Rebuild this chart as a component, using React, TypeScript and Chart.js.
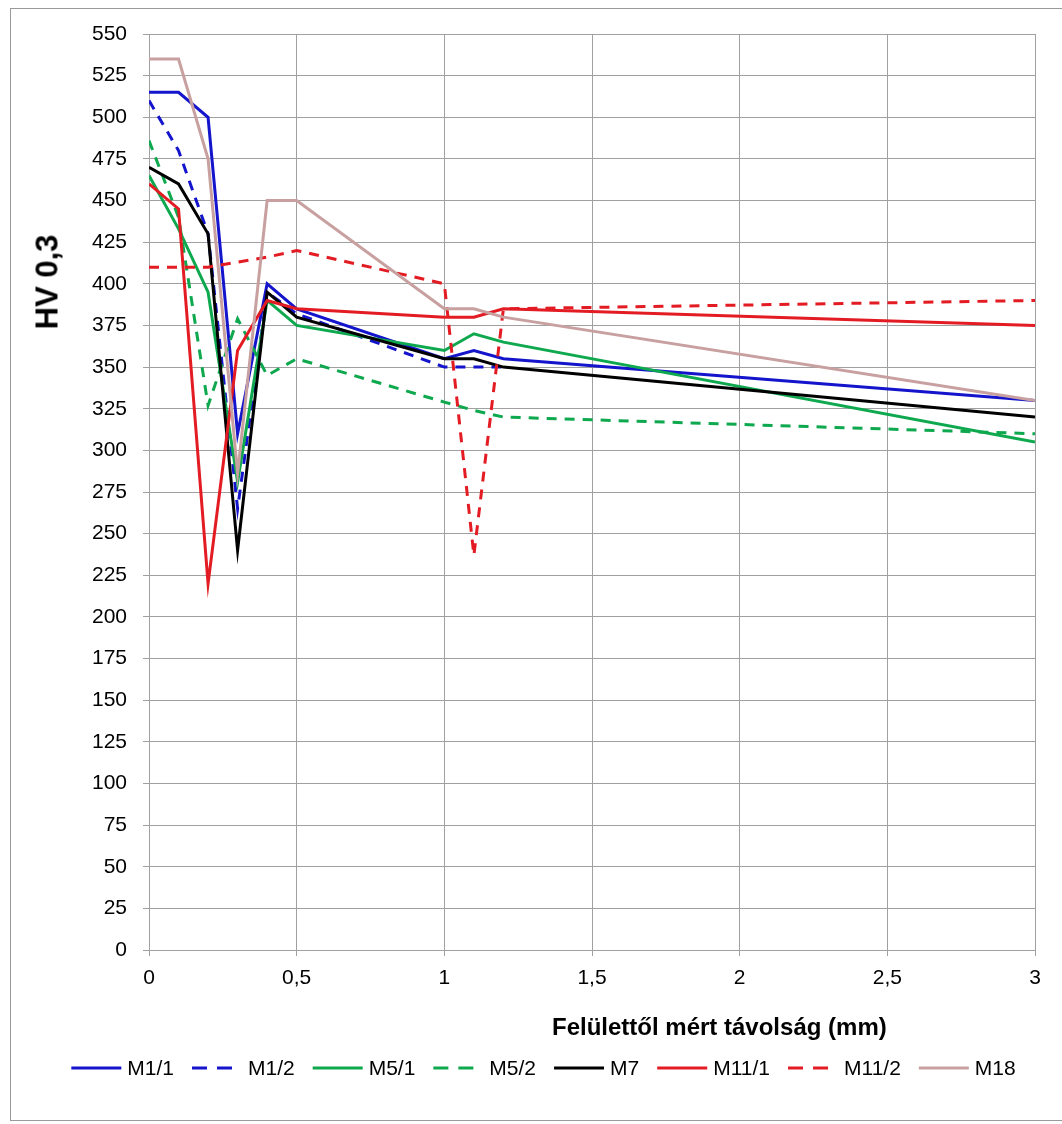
import React, { useEffect, useRef } from "react";
import { Chart, registerables } from "chart.js";

Chart.register(...registerables);

const xValues = [0, 0.1, 0.2, 0.3, 0.4, 0.5, 1, 1.1, 1.2, 3];

const seriesNames = ["M1/1", "M1/2", "M5/1", "M5/2", "M7", "M11/1", "M11/2", "M18"];

const m1_1 = [515, 515, 500, 310, 400, 385, 355, 360, 355, 330];
const m1_2 = [510, 480, 430, 265, 395, 382, 350, 350, 350];
const m5_1 = [465, 433, 395, 281, 390, 375, 360, 370, 365, 305];
const m5_2 = [486, 440, 327, 379, 345, 355, 329, 324, 320, 310];
const m7 = [470, 460, 430, 240, 395, 380, 355, 355, 350, 320];
const m11_1 = [460, 445, 220, 360, 390, 385, 380, 380, 385, 375];
const m11_2 = [410, 410, 410, 413, 416, 420, 400, 237, 385, 390];
const m18 = [535, 535, 475, 286, 450, 450, 385, 385, 380, 330];

const seriesValues = [m1_1, m1_2, m5_1, m5_2, m7, m11_1, m11_2, m18];
const seriesColors = ["#1414CC", "#1414CC", "#0EA84E", "#0EA84E", "#000000", "#E31B23", "#E31B23", "#C8A0A0"];
const seriesDashed = [false, true, false, true, false, false, true, false];

const FONT = "'Liberation Sans', Arial, sans-serif";

const legendPlugin = {
  id: "excelLegend",
  afterDraw(chart: any) {
    const ctx = chart.ctx as CanvasRenderingContext2D;
    const lineLen = 50;
    const gap = 6;
    const spacing = 18;
    const cy = 1068;
    ctx.save();
    ctx.font = `21px ${FONT}`;
    const items = chart.data.datasets.map((ds: any) => ({
      label: ds.label as string,
      color: ds.borderColor as string,
      dashed: Array.isArray(ds.borderDash) && ds.borderDash.length > 0,
      w: ctx.measureText(ds.label).width,
    }));
    const total =
      items.reduce((s: number, it: any) => s + lineLen + gap + it.w, 0) + spacing * (items.length - 1);
    let x = 543.5 - total / 2;
    ctx.textBaseline = "middle";
    ctx.textAlign = "left";
    for (const it of items) {
      ctx.beginPath();
      ctx.strokeStyle = it.color;
      ctx.lineWidth = 3;
      ctx.lineCap = "butt";
      ctx.setLineDash(it.dashed ? [15, 10] : []);
      ctx.moveTo(x, cy);
      ctx.lineTo(x + lineLen, cy);
      ctx.stroke();
      ctx.setLineDash([]);
      ctx.fillStyle = "#000";
      ctx.fillText(it.label, x + lineLen + gap, cy + 1);
      x += lineLen + gap + it.w + spacing;
    }
    ctx.restore();
  },
};

export default function App() {
  const canvasRef = useRef<HTMLCanvasElement | null>(null);

  useEffect(() => {
    if (!canvasRef.current) return;
    const datasets = seriesNames.map((name, i) => ({
      label: name,
      data: seriesValues[i].map((v, j) => ({ x: xValues[j], y: v })),
      borderColor: seriesColors[i],
      backgroundColor: seriesColors[i],
      borderWidth: 3,
      borderDash: seriesDashed[i] ? [10, 8] : [],
      showLine: true,
      pointRadius: 0,
      pointHoverRadius: 0,
      tension: 0,
      fill: false,
      order: -i,
    }));

    const chart = new Chart(canvasRef.current, {
      type: "scatter",
      data: { datasets },
      plugins: [legendPlugin],
      options: {
        animation: false,
        responsive: false,
        maintainAspectRatio: false,
        layout: { padding: { top: 34, right: 27, bottom: 76, left: 0 } },
        plugins: {
          tooltip: { enabled: false },
          legend: { display: false },
        },
        scales: {
          x: {
            type: "linear",
            min: 0,
            max: 3,
            afterFit: (s: any) => {
              s.height = 98;
            },
            ticks: {
              stepSize: 0.5,
              color: "#000",
              padding: 10,
              font: { family: FONT, size: 21 },
              callback: (v: any) => String(v).replace(".", ","),
            },
            grid: { color: "#a0a0a0", lineWidth: 1, tickLength: 6 },
            border: { color: "#a0a0a0" },
          },
          y: {
            type: "linear",
            min: 0,
            max: 550,
            afterFit: (s: any) => {
              s.width = 149;
            },
            ticks: {
              stepSize: 25,
              color: "#000",
              padding: 16,
              font: { family: FONT, size: 21 },
            },
            grid: { color: "#a0a0a0", lineWidth: 1, tickLength: 6 },
            border: { color: "#a0a0a0" },
          },
        },
      },
    });
    return () => chart.destroy();
  }, []);

  return (
    <div style={{ position: "fixed", left: 0, top: 0, width: 1062, height: 1124, background: "#fff", overflow: "hidden" }}>
      <div
        style={{
          position: "absolute",
          left: 10,
          top: 8,
          width: 1070,
          height: 1113,
          border: "1px solid #9a9a9a",
          boxSizing: "border-box",
        }}
      />
      <canvas ref={canvasRef} width={1062} height={1124} style={{ position: "absolute", left: 0, top: 0 }} />
      <div
        style={{
          position: "absolute",
          left: 47,
          top: 282,
          transform: "translate(-50%, -50%) rotate(-90deg)",
          whiteSpace: "nowrap",
          fontFamily: FONT,
          fontWeight: "bold",
          fontSize: 31,
          lineHeight: "31px",
          color: "#000",
        }}
      >
        HV 0,3
      </div>
      <div
        style={{
          position: "absolute",
          left: 552,
          top: 1015,
          whiteSpace: "nowrap",
          fontFamily: FONT,
          fontWeight: "bold",
          fontSize: 24,
          lineHeight: "24px",
          color: "#000",
        }}
      >
        Felülettől mért távolság (mm)
      </div>
    </div>
  );
}
